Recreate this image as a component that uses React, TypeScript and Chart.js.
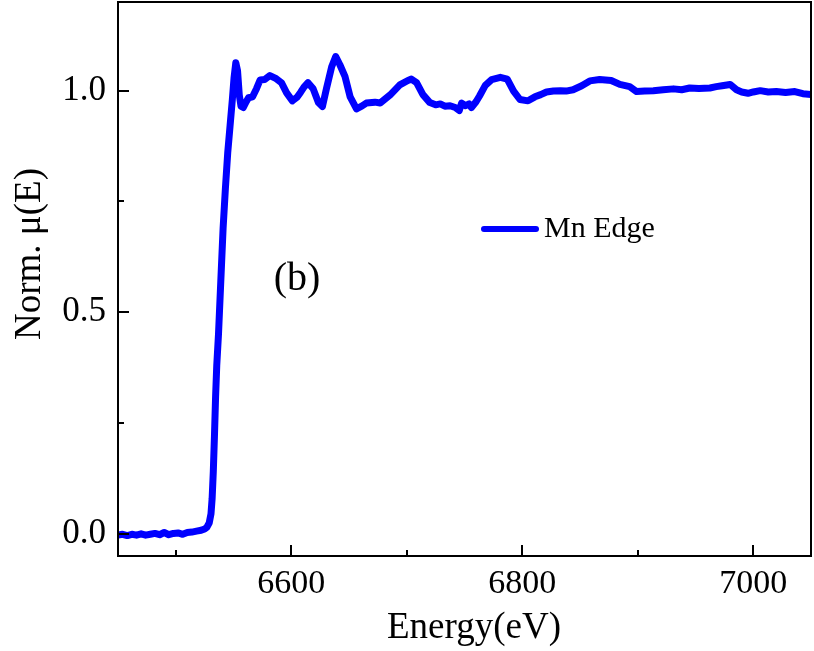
import React, { useEffect, useRef } from "react";
import { Chart, registerables } from "chart.js";

Chart.register(...registerables);

const energy = [
  6450, 6454, 6458, 6462, 6466, 6470, 6474, 6478, 6482, 6486, 6490, 6494, 6498, 6502, 6506, 6510,
  6514, 6518, 6522, 6525, 6527, 6529, 6530.5, 6531.5, 6532.5, 6533.5, 6534.5, 6535.5, 6537, 6539,
  6541, 6543, 6545, 6547, 6549, 6550.5, 6552, 6553.5, 6555, 6556.5, 6558.5, 6561, 6563, 6566.5,
  6570, 6573, 6577, 6581.5, 6587, 6591.5, 6596, 6601, 6605, 6608, 6611, 6614.5, 6619, 6623.5,
  6627, 6630.5, 6635, 6638.5, 6642, 6646.5, 6651, 6656.5, 6661, 6665, 6672.5, 6677, 6685.5, 6694,
  6701, 6704, 6708.5, 6714, 6720, 6725, 6729, 6733, 6737.5, 6742, 6745.5, 6747.5, 6751, 6754,
  6756, 6760, 6763, 6768, 6773.5, 6781, 6787, 6792.5, 6798, 6805, 6811, 6816, 6821, 6827, 6833,
  6838, 6844, 6851.5, 6858.5, 6867, 6877, 6884.5, 6893, 6899, 6906, 6913.5, 6922, 6931, 6938,
  6945, 6953, 6962.5, 6968, 6973, 6980, 6985.5, 6990, 6995.5, 7000, 7006, 7013, 7020, 7028, 7036,
  7043, 7050,
];

const mu = [
  -0.003, -0.001, -0.004, -0.001, -0.003, 0.0, -0.003, -0.001, 0.001, -0.002, 0.003, -0.002, 0.001,
  0.002, -0.001, 0.003, 0.004, 0.006, 0.008, 0.011, 0.015, 0.025, 0.045, 0.08, 0.14, 0.22, 0.31,
  0.38, 0.45, 0.57, 0.69, 0.78, 0.86, 0.92, 0.98, 1.03, 1.063, 1.045, 0.99, 0.965, 0.962, 0.975,
  0.984, 0.986, 1.005, 1.024, 1.025, 1.034, 1.027, 1.018, 0.995, 0.977, 0.985, 0.996, 1.008,
  1.018, 1.004, 0.973, 0.964, 1.005, 1.054, 1.077, 1.059, 1.032, 0.986, 0.959, 0.965, 0.972,
  0.974, 0.972, 0.99, 1.013, 1.023, 1.026, 1.018, 0.991, 0.973, 0.968, 0.97, 0.965, 0.966, 0.962,
  0.955, 0.972, 0.966, 0.97, 0.962, 0.975, 0.988, 1.012, 1.025, 1.03, 1.026, 0.999, 0.98, 0.977,
  0.986, 0.991, 0.997, 0.999, 1.0, 0.999, 1.002, 1.011, 1.022, 1.025, 1.023, 1.014, 1.009, 0.998,
  0.999, 1.0, 1.002, 1.004, 1.002, 1.006, 1.005, 1.006, 1.009, 1.011, 1.014, 1.002, 0.997, 0.994,
  0.997, 1.0, 0.997, 0.998, 0.996, 0.998, 0.993, 0.991,
];

const seriesLabel = "Mn Edge";
const panelLabel = "(b)";
const xTitle = "Energy(eV)";
const yTitle = "Norm. \u03bc(E)";

const xMajorTicks = [6600, 6800, 7000];
const xMinorTicks = [6500, 6700, 6900];
const yMajorTicks = [0.0, 0.5, 1.0];
const yMinorTicks = [0.25, 0.75];

const FONT = "'Liberation Serif', 'Times New Roman', serif";
const LINE_COLOR = "#0000ff";

const decorPlugin = {
  id: "decor",
  afterDraw(chart: any) {
    const { ctx, chartArea } = chart;
    const { left, right, top, bottom } = chartArea;
    const xs = chart.scales.x;
    const ys = chart.scales.y;
    ctx.save();
    ctx.strokeStyle = "#000";
    ctx.lineWidth = 2;
    ctx.strokeRect(left, top, right - left, bottom - top);
    ctx.beginPath();
    for (const v of xMajorTicks) {
      const px = Math.round(xs.getPixelForValue(v));
      ctx.moveTo(px, bottom);
      ctx.lineTo(px, bottom - 11);
    }
    for (const v of xMinorTicks) {
      const px = Math.round(xs.getPixelForValue(v));
      ctx.moveTo(px, bottom);
      ctx.lineTo(px, bottom - 6);
    }
    for (const v of yMajorTicks) {
      const py = Math.round(ys.getPixelForValue(v));
      ctx.moveTo(left, py);
      ctx.lineTo(left + 11, py);
    }
    for (const v of yMinorTicks) {
      const py = Math.round(ys.getPixelForValue(v));
      ctx.moveTo(left, py);
      ctx.lineTo(left + 6, py);
    }
    ctx.stroke();

    // legend
    ctx.strokeStyle = LINE_COLOR;
    ctx.lineWidth = 6;
    ctx.lineCap = "round";
    ctx.beginPath();
    ctx.moveTo(484, 229);
    ctx.lineTo(536, 229);
    ctx.stroke();
    ctx.fillStyle = "#000";
    ctx.font = `30px ${FONT}`;
    ctx.textAlign = "left";
    ctx.textBaseline = "middle";
    ctx.fillText(seriesLabel, 544, 229);

    // panel label
    ctx.font = `40px ${FONT}`;
    ctx.textAlign = "center";
    ctx.fillText(panelLabel, 297, 279);

    // axis titles
    ctx.font = `37px ${FONT}`;
    ctx.textAlign = "center";
    ctx.textBaseline = "middle";
    ctx.fillText(xTitle, 474, 628);
    ctx.save();
    ctx.translate(30, 254);
    ctx.rotate(-Math.PI / 2);
    ctx.fillText(yTitle, 0, 0);
    ctx.restore();

    ctx.restore();
  },
};

export default function App() {
  const ref = useRef<HTMLCanvasElement | null>(null);

  useEffect(() => {
    const canvas = ref.current;
    if (!canvas) return;
    const chart = new Chart(canvas, {
      type: "line",
      data: {
        datasets: [
          {
            label: seriesLabel,
            data: energy.map((e, i) => ({ x: e, y: mu[i] })),
            borderColor: LINE_COLOR,
            backgroundColor: LINE_COLOR,
            borderWidth: 7,
            pointRadius: 0,
            tension: 0,
            borderJoinStyle: "round",
            borderCapStyle: "round",
            fill: false,
          },
        ],
      },
      options: {
        responsive: false,
        animation: false,
        events: [],
        layout: { padding: { left: 0, top: 2, right: 3, bottom: 0 } },
        plugins: {
          legend: { display: false },
          tooltip: { enabled: false },
          title: { display: false },
        },
        scales: {
          x: {
            type: "linear",
            min: 6450,
            max: 7050,
            grid: { display: false, drawTicks: false },
            border: { display: false },
            afterBuildTicks: (scale: any) => {
              scale.ticks = xMajorTicks.map((v) => ({ value: v }));
            },
            afterFit: (scale: any) => {
              scale.height = 95;
              scale.paddingLeft = 0;
              scale.paddingRight = 0;
            },
            ticks: {
              color: "#000",
              padding: 8,
              maxRotation: 0,
              font: { family: FONT, size: 34 },
              callback: (v: any) => String(v),
            },
          },
          y: {
            type: "linear",
            min: -0.05,
            max: 1.2,
            grid: { display: false, drawTicks: false },
            border: { display: false },
            afterBuildTicks: (scale: any) => {
              scale.ticks = yMajorTicks.map((v) => ({ value: v }));
            },
            afterFit: (scale: any) => {
              scale.width = 118;
              scale.paddingTop = 0;
              scale.paddingBottom = 0;
            },
            ticks: {
              color: "#000",
              padding: 12,
              font: { family: FONT, size: 35 },
              callback: (v: any) => Number(v).toFixed(1),
            },
          },
        },
      },
      plugins: [decorPlugin],
    } as any);
    return () => chart.destroy();
  }, []);

  return (
    <div style={{ position: "fixed", left: 0, top: 0, width: 814, height: 651, background: "#fff" }}>
      <canvas ref={ref} width={814} height={651} style={{ width: 814, height: 651, display: "block" }} />
    </div>
  );
}
